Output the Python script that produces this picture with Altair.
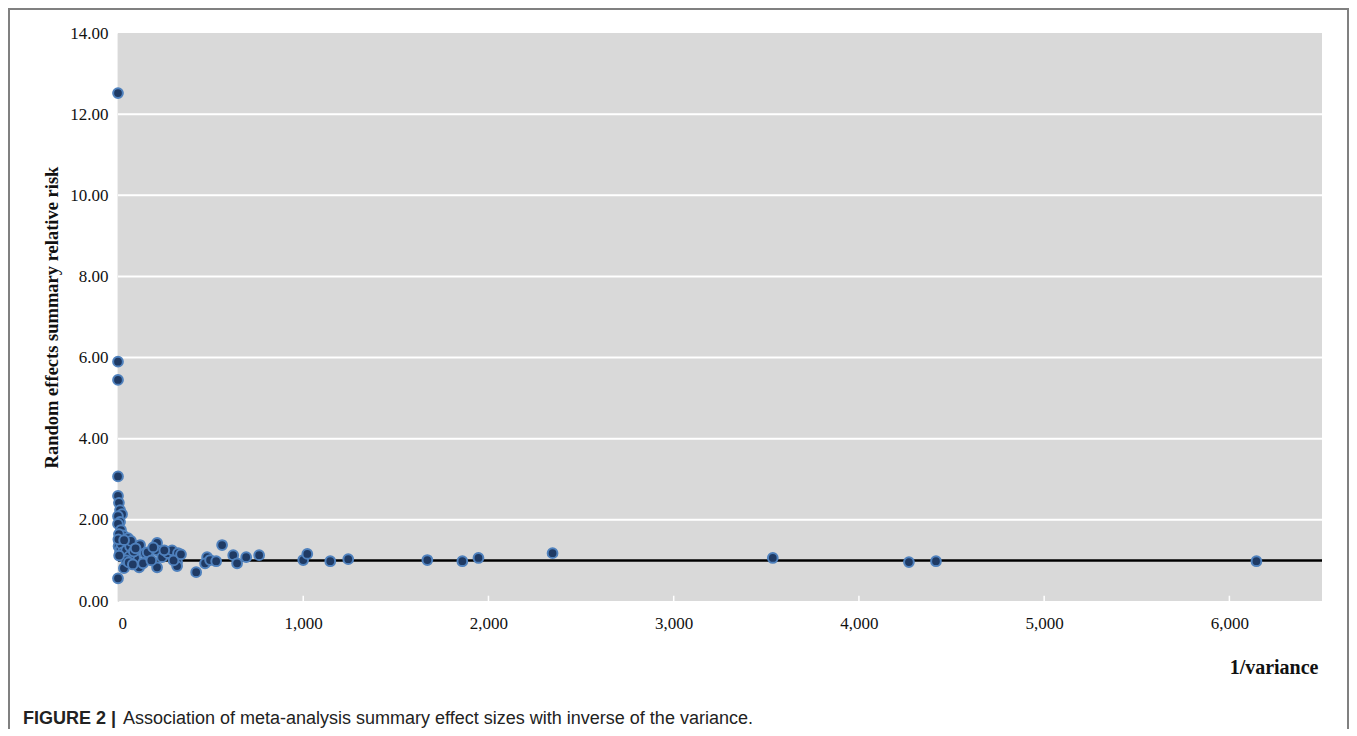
import altair as alt
import pandas as pd

# 1/variance values and random-effects summary relative risk
inv_var = [0, 0, 0, 0, 0, 5, 11, 22, 0, 11, 0, 16, 27, 54, 38, 22, 11, 49, 76, 38,
           32, 103, 119, 92, 114, 146, 135, 211, 211, 211, 238, 270, 292, 324, 319, 319,
           0, 422, 481, 470, 497, 530, 562, 622, 643, 692, 762, 1000, 1022, 1146, 1243,
           1670, 1859, 1946, 2346, 3535, 4270, 4416, 6146,
           5, 8, 3, 14, 18, 25, 30, 44, 60, 65, 70, 85, 95, 45, 58, 80, 6, 2, 33,
           160, 180, 190, 250, 300, 340]
rel_risk = [12.52, 5.90, 5.45, 3.07, 2.59, 2.42, 2.24, 2.14, 2.09, 1.95, 1.90, 1.75, 1.62,
            1.55, 1.45, 1.33, 1.21, 1.30, 1.18, 1.06, 0.81, 1.30, 1.38, 1.06, 0.83, 1.18,
            0.93, 1.43, 1.25, 0.83, 1.08, 1.18, 1.25, 1.18, 0.96, 0.86, 0.56, 0.71, 1.08,
            0.93, 1.01, 0.98, 1.38, 1.13, 0.93, 1.08, 1.13, 1.01, 1.16, 0.98, 1.03, 1.01,
            0.98, 1.06, 1.18, 1.06, 0.96, 0.98, 0.98,
            1.65, 1.45, 1.35, 1.28, 1.40, 1.20, 1.10, 1.25, 1.10, 1.35, 1.48, 1.22, 1.30,
            1.00, 0.95, 0.90, 1.12, 1.52, 1.50, 1.20, 1.00, 1.32, 1.25, 1.00, 1.15]

ref_value = [1.0]
x_ticks = [0, 1000, 2000, 3000, 4000, 5000, 6000]
y_ticks = [0, 2, 4, 6, 8, 10, 12, 14]

df = pd.DataFrame({"inv_var": inv_var, "rr": rel_risk})
ref_df = pd.DataFrame({"rr": ref_value})
tick_df = pd.DataFrame({"x": x_ticks[1:], "y0": [0.0] * 6, "y1": [0.13] * 6})
grid_df = pd.DataFrame({"g": y_ticks[1:-1]})

SERIF = "Liberation Serif"
SANS = "Liberation Sans"
W, H = 1204, 568

xscale = alt.Scale(domain=[0, 6500], nice=False, zero=True)
yscale = alt.Scale(domain=[0, 14], nice=False)

xaxis = alt.Axis(values=x_ticks, format=",d", grid=False, domain=False, ticks=False,
                 labelFont=SERIF, labelFontSize=17, labelColor="#111", labelPadding=14,
                 title="1/variance", titleFont=SERIF, titleFontSize=20, titleFontWeight="bold",
                 titleColor="#111", titleX=W - 4, titleAlign="right", titleY=56,
                 titleBaseline="top")
yaxis = alt.Axis(values=y_ticks, format=".2f", grid=False,
                 domain=True, domainColor="#bfbfbf", domainWidth=1.5, ticks=False,
                 labelFont=SERIF, labelFontSize=17, labelColor="#111", labelPadding=10,
                 title="Random effects summary relative risk", titleFont=SERIF,
                 titleFontSize=18.5, titleFontWeight="bold", titleColor="#111", titlePadding=8)

panel = alt.Chart(pd.DataFrame({"a": [0]})).mark_rect(fill="#d9d9d9").encode(
    x=alt.value(0), x2=alt.value(W), y=alt.value(0), y2=alt.value(H)
)

grid = alt.Chart(grid_df).mark_rule(color="white", strokeWidth=2).encode(
    y=alt.Y("g:Q", scale=yscale)
)

base_pts = alt.Chart(df).mark_point(
    filled=True, shape="circle", size=95, fill="#1f3a64", stroke="#4f81bd",
    strokeWidth=2, opacity=1
).encode(
    x=alt.X("inv_var:Q", scale=xscale, axis=xaxis),
    y=alt.Y("rr:Q", scale=yscale, axis=yaxis),
)

ref_line = alt.Chart(ref_df).mark_rule(color="black", strokeWidth=2.5).encode(
    y=alt.Y("rr:Q", scale=yscale)
)

white_ticks = alt.Chart(tick_df).mark_rule(color="white", strokeWidth=1.5).encode(
    x=alt.X("x:Q", scale=xscale), y=alt.Y("y0:Q", scale=yscale), y2="y1:Q"
)

frame = alt.Chart(pd.DataFrame({"a": [0]})).mark_rect(
    fillOpacity=0, stroke="#808080", strokeWidth=2
).encode(
    x=alt.value(-109), x2=alt.value(W + 26), y=alt.value(-24), y2=alt.value(H + 140)
)

cap_bold = alt.Chart(pd.DataFrame({"t": ["FIGURE 2 |"]})).mark_text(
    font=SANS, fontSize=18, fontWeight="bold", align="left", baseline="alphabetic", color="#222"
).encode(text="t:N", x=alt.value(-95), y=alt.value(H + 123))

cap_text = alt.Chart(pd.DataFrame({"t": ["Association of meta-analysis summary effect sizes with inverse of the variance."]})).mark_text(
    font=SANS, fontSize=18, align="left", baseline="alphabetic", color="#222"
).encode(text="t:N", x=alt.value(5), y=alt.value(H + 123))

chart = alt.layer(panel, grid, white_ticks, ref_line, base_pts, frame, cap_bold, cap_text).properties(
    width=W, height=H,
    autosize=alt.AutoSizeParams(type="none"),
    padding={"left": 110, "top": 25, "right": 27, "bottom": 128},
).configure_view(stroke=None)

chart.save("out.html", embed_options={"renderer": "svg", "actions": False})
